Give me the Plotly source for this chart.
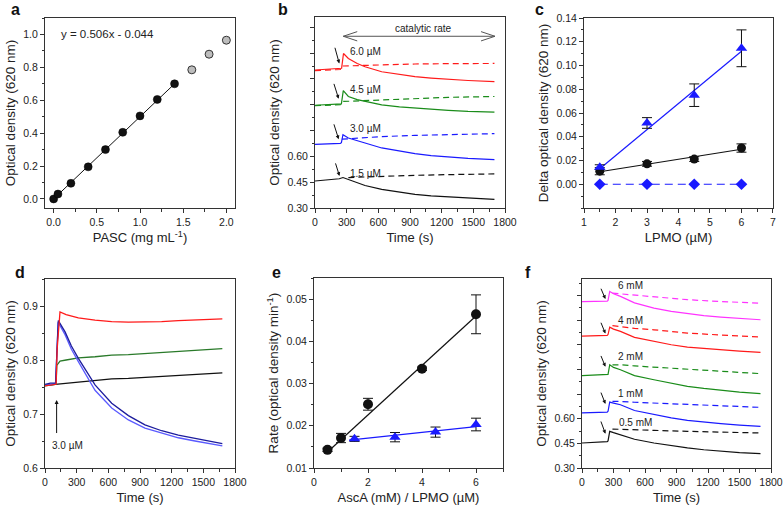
import plotly.graph_objects as go

W, H = 784, 513
FONT = "Liberation Sans, Arial, sans-serif"

# ---------------- data ----------------
# panel a
a_x = [0.0, 0.05, 0.2, 0.4, 0.6, 0.8, 1.0, 1.2, 1.4]
a_y = [0.0, 0.03, 0.095, 0.195, 0.30, 0.405, 0.505, 0.605, 0.70]
a_gray_x = [1.6, 1.8, 2.0]
a_gray_y = [0.785, 0.88, 0.965]
a_fit_x = [0.0, 1.4]
a_fit_y = [0.0, 0.70]

# panel b
b_red_t = [0, 120, 240, 252, 270, 316, 400, 474, 632, 800, 947, 1100, 1263, 1450, 1700]
b_red_y = [1.102, 1.106, 1.108, 1.112, 1.198, 1.169, 1.140, 1.121, 1.092, 1.075, 1.063, 1.055, 1.048, 1.041, 1.034]
b_redd_t = [0, 120, 240, 255, 400, 632, 947, 1263, 1700]
b_redd_y = [1.098, 1.100, 1.105, 1.125, 1.128, 1.134, 1.137, 1.139, 1.140]
b_grn_t = [0, 120, 240, 250, 268, 316, 400, 474, 632, 800, 947, 1100, 1263, 1450, 1700]
b_grn_y = [0.897, 0.899, 0.902, 0.905, 0.982, 0.948, 0.930, 0.919, 0.899, 0.888, 0.880, 0.873, 0.867, 0.861, 0.857]
b_grnd_t = [0, 240, 260, 400, 632, 947, 1263, 1700]
b_grnd_y = [0.895, 0.900, 0.919, 0.922, 0.930, 0.937, 0.943, 0.948]
b_blu_t = [0, 120, 240, 250, 265, 316, 400, 474, 632, 800, 947, 1100, 1263, 1450, 1700]
b_blu_y = [0.670, 0.672, 0.675, 0.680, 0.726, 0.707, 0.690, 0.678, 0.649, 0.630, 0.616, 0.604, 0.595, 0.588, 0.581]
b_blud_t = [255, 316, 474, 632, 947, 1263, 1700]
b_blud_y = [0.700, 0.703, 0.710, 0.715, 0.722, 0.727, 0.732]
b_blk_t = [0, 100, 190, 230, 265, 316, 400, 474, 632, 800, 947, 1100, 1263, 1450, 1700]
b_blk_y = [0.457, 0.462, 0.468, 0.470, 0.477, 0.466, 0.448, 0.431, 0.408, 0.392, 0.379, 0.370, 0.364, 0.357, 0.350]
b_blkd_t = [316, 474, 632, 947, 1263, 1700]
b_blkd_y = [0.477, 0.481, 0.485, 0.490, 0.494, 0.498]
b_labels = ["6.0 µM", "4.5 µM", "3.0 µM", "1.5 µM"]

# panel c
c_x = [1.5, 3.0, 4.5, 6.0]
c_tri_y = [0.0144, 0.0516, 0.075, 0.1145]
c_tri_err = [0.002, 0.0045, 0.0095, 0.0155]
c_cir_y = [0.011, 0.0172, 0.0212, 0.0305]
c_cir_err = [0.003, 0.002, 0.002, 0.0035]
c_dia_y = [0.0, 0.0, 0.0, 0.0]
c_tri_fit_x = [1.5, 6.0]
c_tri_fit_y = [0.013, 0.112]
c_cir_fit_x = [1.5, 6.0]
c_cir_fit_y = [0.0105, 0.0295]

# panel d
d_red_t = [0, 50, 105, 115, 142, 200, 316, 474, 632, 790, 947, 1105, 1263, 1421, 1680]
d_red_y = [0.752, 0.754, 0.755, 0.82, 0.889, 0.884, 0.878, 0.874, 0.871, 0.870, 0.870, 0.871, 0.873, 0.874, 0.876]
d_grn_t = [0, 50, 105, 112, 142, 200, 316, 474, 632, 790, 947, 1105, 1263, 1421, 1680]
d_grn_y = [0.752, 0.754, 0.755, 0.79, 0.798, 0.800, 0.804, 0.806, 0.809, 0.810, 0.812, 0.814, 0.816, 0.818, 0.821]
d_blk_t = [0, 158, 316, 474, 632, 790, 947, 1105, 1263, 1421, 1680]
d_blk_y = [0.753, 0.756, 0.760, 0.762, 0.765, 0.766, 0.768, 0.770, 0.772, 0.773, 0.776]
d_nav_t = [0, 50, 100, 110, 126, 190, 250, 316, 400, 474, 632, 790, 947, 1105, 1263, 1421, 1680]
d_nav_y = [0.755, 0.757, 0.757, 0.80, 0.873, 0.852, 0.826, 0.803, 0.776, 0.754, 0.720, 0.697, 0.680, 0.669, 0.661, 0.655, 0.645]
d_lbl_t = [0, 50, 100, 110, 124, 190, 250, 316, 400, 474, 632, 790, 947, 1105, 1263, 1421, 1680]
d_lbl_y = [0.753, 0.755, 0.756, 0.80, 0.870, 0.847, 0.820, 0.797, 0.768, 0.744, 0.711, 0.689, 0.674, 0.665, 0.656, 0.650, 0.641]

# panel e
e_cir_x = [0.5, 1.0, 2.0, 4.0, 6.0]
e_cir_y = [0.0143, 0.0171, 0.0251, 0.0335, 0.0464]
e_cir_err = [0.0004, 0.0011, 0.0014, 0.0004, 0.0046]
e_tri_x = [1.5, 3.0, 4.5, 6.0]
e_tri_y = [0.0169, 0.0173, 0.0185, 0.0203]
e_tri_err = [0.0006, 0.0011, 0.0012, 0.0015]
e_cir_fit_x = [0.5, 6.0]
e_cir_fit_y = [0.0138, 0.0460]
e_tri_fit_x = [1.3, 6.0]
e_tri_fit_y = [0.0166, 0.0198]

# panel f
f_t = [0, 120, 240, 248, 264, 300, 366, 500, 685, 850, 1004, 1160, 1322, 1500, 1700]
f_td = [290, 366, 500, 685, 1004, 1322, 1700]
f_blk_y = [0.452, 0.456, 0.460, 0.465, 0.523, 0.515, 0.503, 0.475, 0.452, 0.436, 0.422, 0.411, 0.401, 0.394, 0.387]
f_blkd_y = [0.537, 0.535, 0.532, 0.529, 0.523, 0.518, 0.513]
f_blu_y = [0.636, 0.638, 0.640, 0.645, 0.701, 0.695, 0.685, 0.650, 0.624, 0.605, 0.590, 0.579, 0.570, 0.561, 0.553]
f_blud_y = [0.705, 0.705, 0.700, 0.695, 0.685, 0.677, 0.669]
f_grn_y = [0.862, 0.864, 0.866, 0.870, 0.928, 0.912, 0.898, 0.862, 0.837, 0.815, 0.797, 0.784, 0.772, 0.762, 0.752]
f_grnd_y = [0.928, 0.928, 0.921, 0.914, 0.902, 0.888, 0.874]
f_red_y = [1.103, 1.105, 1.107, 1.112, 1.157, 1.145, 1.131, 1.095, 1.070, 1.050, 1.036, 1.027, 1.020, 1.011, 1.003]
f_redd_y = [1.166, 1.160, 1.150, 1.141, 1.121, 1.109, 1.097]
f_mag_y = [1.312, 1.313, 1.315, 1.320, 1.374, 1.360, 1.344, 1.305, 1.273, 1.253, 1.239, 1.227, 1.218, 1.210, 1.202]
f_magd_y = [1.364, 1.360, 1.352, 1.344, 1.324, 1.313, 1.303]
f_labels = ["6 mM", "4 mM", "2 mM", "1 mM", "0.5 mM"]

# ---------------- layout helpers ----------------
RED, GRN, BLU, BLK, MAG = "#ff1a1a", "#1a8c1a", "#1a1aff", "#111111", "#ff33ff"
D_GRN, NAVY, LBLUE = "#2a7a2a", "#1c1c9c", "#5a5aff"

boxes = {  # px: left, right, top, bottom
    1: (45, 235, 18, 208),
    2: (315, 505, 17, 208),
    3: (584, 773, 18, 208),
    4: (45, 235, 279, 468),
    5: (314, 503, 278, 468),
    6: (582, 771, 279, 468),
}

fig = go.Figure()


def ax_name(i, k):
    return f"{k}axis" if i == 1 else f"{k}axis{i}"


def ref(i, k):
    return k if i == 1 else f"{k}{i}"


def add(i, **kw):
    kw.setdefault("showlegend", False)
    kw.setdefault("hoverinfo", "skip")
    fig.add_trace(go.Scatter(xaxis=ref(i, "x"), yaxis=ref(i, "y"), **kw))


tickfont = dict(family=FONT, size=10.5, color="#222")
xtitlefont = dict(family=FONT, size=13, color="#222")
ytitlefont = dict(family=FONT, size=13.5, color="#222")


def set_axes(i, xr, yr, xt, yt, xdt, xminor, ydt=None, yminor=None, ytickvals=None, yticktext=None, xfmt=None, yfmt=None):
    L, R, T, B = boxes[i]
    common = dict(showline=True, linecolor="#333", linewidth=1, mirror=True, ticks="outside",
                  ticklen=4, tickcolor="#333", tickwidth=1, showgrid=False, zeroline=False,
                  tickfont=tickfont, automargin=False, fixedrange=True)
    xa = dict(common, domain=[L / W, R / W], range=xr, anchor=ref(i, "y"), dtick=xdt, tick0=0,
              minor=dict(dtick=xminor, ticklen=2.5, tickcolor="#333", ticks="outside", showgrid=False),
              title=dict(text=xt, font=xtitlefont, standoff=6))
    if xfmt:
        xa["tickformat"] = xfmt
    ya = dict(common, domain=[1 - B / H, 1 - T / H], range=yr, anchor=ref(i, "x"),
              title=dict(text=yt, font=ytitlefont, standoff=4))
    if ytickvals is not None:
        ya.update(tickmode="array", tickvals=ytickvals, ticktext=yticktext)
    else:
        ya.update(dtick=ydt, tick0=0)
    if yminor is not None:
        ya["minor"] = dict(dtick=yminor, tick0=0, ticklen=2.5, tickcolor="#333", ticks="outside", showgrid=False)
    if yfmt:
        ya["tickformat"] = yfmt
    fig.layout[ax_name(i, "x")] = xa
    fig.layout[ax_name(i, "y")] = ya


# ---------------- panel a ----------------
add(1, x=a_fit_x, y=a_fit_y, mode="lines", line=dict(color=BLK, width=1))
add(1, x=a_x, y=a_y, mode="markers",
    marker=dict(color=BLK, size=8, line=dict(color="#000", width=0.5)),
    error_x=dict(type="constant", value=0.035, color=BLK, thickness=1, width=0))
add(1, x=a_gray_x, y=a_gray_y, mode="markers",
    marker=dict(color="#bdbdbd", size=8, line=dict(color="#333", width=1)))
set_axes(1, [-0.1, 2.1], [-0.055, 1.1], "PASC (mg mL<sup>-1</sup>)", "Optical density (620 nm)",
         0.5, 0.25, ydt=0.2, yminor=0.1, xfmt=".1f", yfmt=".1f")

# ---------------- panel b ----------------
b_tick_vals = [0.30, 0.45, 0.60, 0.75, 0.90, 1.05, 1.20, 1.35]
b_tick_text = ["0.30", "0.45", "0.60", "", "", "", "", ""]
for t, y, c in [(b_red_t, b_red_y, RED), (b_grn_t, b_grn_y, GRN), (b_blu_t, b_blu_y, BLU), (b_blk_t, b_blk_y, BLK)]:
    add(2, x=t, y=y, mode="lines", line=dict(color=c, width=1.2))
for t, y, c in [(b_redd_t, b_redd_y, RED), (b_grnd_t, b_grnd_y, GRN), (b_blud_t, b_blud_y, BLU), (b_blkd_t, b_blkd_y, BLK)]:
    add(2, x=t, y=y, mode="lines", line=dict(color=c, width=1.2, dash="6px,4px"))
set_axes(2, [0, 1800], [0.30, 1.41], "Time (s)", "Optical density (620 nm)", 300, 150,
         yminor=0.075, ytickvals=b_tick_vals, yticktext=b_tick_text)

# ---------------- panel c ----------------
add(3, x=c_x, y=c_dia_y, mode="lines+markers",
    line=dict(color=BLU, width=1.2, dash="8px,5px"),
    marker=dict(symbol="diamond", size=9, color=BLU))
add(3, x=c_cir_fit_x, y=c_cir_fit_y, mode="lines", line=dict(color=BLK, width=1.2))
add(3, x=c_tri_fit_x, y=c_tri_fit_y, mode="lines", line=dict(color=BLU, width=1.2))
add(3, x=c_x, y=c_cir_y, mode="markers", marker=dict(color=BLK, size=9),
    error_y=dict(type="data", array=c_cir_err, color=BLK, thickness=1, width=5))
add(3, x=c_x, y=c_tri_y, mode="markers", marker=dict(symbol="triangle-up", color=BLU, size=10),
    error_y=dict(type="data", array=c_tri_err, color=BLK, thickness=1, width=5))
set_axes(3, [0.999, 7.001], [-0.02, 0.14], "LPMO (µM)", "Delta optical density (620 nm)", 1, 0.5,
         yminor=0.01, ytickvals=[0, 0.02, 0.04, 0.06, 0.08, 0.10, 0.12, 0.14],
         yticktext=["0.00", "0.02", "0.04", "0.06", "0.08", "0.10", "0.12", "0.14"])

# ---------------- panel d ----------------
add(4, x=d_blk_t, y=d_blk_y, mode="lines", line=dict(color=BLK, width=1.3))
add(4, x=d_grn_t, y=d_grn_y, mode="lines", line=dict(color=D_GRN, width=1.3))
add(4, x=d_lbl_t, y=d_lbl_y, mode="lines", line=dict(color=LBLUE, width=1.3))
add(4, x=d_nav_t, y=d_nav_y, mode="lines", line=dict(color=NAVY, width=1.3))
add(4, x=d_red_t, y=d_red_y, mode="lines", line=dict(color=RED, width=1.3))
set_axes(4, [0, 1800], [0.6, 0.95], "Time (s)", "Optical density (620 nm)", 300, 150,
         ydt=0.1, yminor=0.05, yfmt=".1f")

# ---------------- panel e ----------------
add(5, x=e_cir_fit_x, y=e_cir_fit_y, mode="lines", line=dict(color=BLK, width=1.2))
add(5, x=e_tri_fit_x, y=e_tri_fit_y, mode="lines", line=dict(color=BLU, width=1.2))
add(5, x=e_cir_x, y=e_cir_y, mode="markers", marker=dict(color=BLK, size=10),
    error_y=dict(type="data", array=e_cir_err, color=BLK, thickness=1, width=5))
add(5, x=e_tri_x, y=e_tri_y, mode="markers", marker=dict(symbol="triangle-up", color=BLU, size=10),
    error_y=dict(type="data", array=e_tri_err, color=BLK, thickness=1, width=5))
set_axes(5, [0, 7], [0.01, 0.055], "AscA (mM) / LPMO (µM)", "Rate (optical density min<sup>-1</sup>)", 2, 1,
         ydt=0.01, yminor=0.005, yfmt=".2f")

# ---------------- panel f ----------------
for y, c in [(f_mag_y, MAG), (f_red_y, RED), (f_grn_y, GRN), (f_blu_y, BLU), (f_blk_y, BLK)]:
    add(6, x=f_t, y=y, mode="lines", line=dict(color=c, width=1.2))
for y, c in [(f_magd_y, MAG), (f_redd_y, RED), (f_grnd_y, GRN), (f_blud_y, BLU), (f_blkd_y, BLK)]:
    add(6, x=f_td, y=y, mode="lines", line=dict(color=c, width=1.2, dash="6px,4px"))
set_axes(6, [0, 1800], [0.30, 1.45], "Time (s)", "Optical density (620 nm)", 300, 150,
         yminor=0.075, ytickvals=b_tick_vals, yticktext=b_tick_text)

# ---------------- annotations ----------------
ann = []


def text(i, x, y, s, size=10, **kw):
    ann.append(dict(xref=ref(i, "x"), yref=ref(i, "y"), x=x, y=y, text=s, showarrow=False,
                    font=dict(family=FONT, size=size, color="#222"), **kw))


def arrow(i, x0, y0, x1, y1, head=2, size=0.8, color="#111", width=1):
    ann.append(dict(xref=ref(i, "x"), yref=ref(i, "y"), axref=ref(i, "x"), ayref=ref(i, "y"),
                    x=x1, y=y1, ax=x0, ay=y0, text="", showarrow=True, arrowhead=head,
                    arrowsize=size, arrowwidth=width, arrowcolor=color, standoff=0, startstandoff=0))


text(1, 0.62, 1.0, "y = 0.506x - 0.044", size=11.5)

# b labels and arrows
for s, y in zip(b_labels, [1.208, 0.988, 0.761, 0.501]):
    text(2, 480, y, s)
for (x0, y0, x1, y1) in [(185, 1.240, 230, 1.140), (175, 1.030, 224, 0.935), (175, 0.795, 224, 0.700), (190, 0.568, 232, 0.486)]:
    arrow(2, x0, y0, x1, y1, head=2, size=0.75)
text(2, 1026, 1.345, "catalytic rate", size=10)
# double arrow with open heads
fig.add_shape(type="line", xref="x2", yref="y2", x0=268, x1=1705, y0=1.298, y1=1.298, line=dict(color="#555", width=1))
fig.add_shape(type="path", xref="x2", yref="y2", path="M 400,1.325 L 268,1.298 L 400,1.271", line=dict(color="#555", width=1))
fig.add_shape(type="path", xref="x2", yref="y2", path="M 1573,1.325 L 1705,1.298 L 1573,1.271", line=dict(color="#555", width=1))

# d arrow
arrow(4, 110, 0.662, 110, 0.726, head=2, size=0.8)
text(4, 215, 0.641, "3.0 µM", size=10)

# f labels and arrows
for s, x, y in zip(f_labels, [462, 462, 462, 462, 510], [1.409, 1.198, 0.979, 0.756, 0.574]):
    text(6, x, y, s)
for (y0, y1) in [(1.40, 1.328), (1.193, 1.118), (0.991, 0.916), (0.768, 0.690), (0.592, 0.509)]:
    arrow(6, 175, y0, 223, y1, head=2, size=0.75)

# panel letters
for s, x, y in [("a", 15, 9), ("b", 283, 9), ("c", 539, 9), ("d", 20, 272), ("e", 276, 272), ("f", 528, 272)]:
    ann.append(dict(xref="paper", yref="paper", x=x / W, y=1 - y / H, text=f"<b>{s}</b>", showarrow=False,
                    xanchor="center", yanchor="middle", font=dict(family=FONT, size=16, color="#111")))

fig.update_layout(width=W, height=H, margin=dict(l=0, r=0, t=0, b=0),
                  paper_bgcolor="white", plot_bgcolor="white", annotations=ann,
                  font=dict(family=FONT), hovermode=False)

fig.write_html("out.html", config={"displayModeBar": False, "staticPlot": False},
               post_script="document.body.style.margin='0';document.body.style.overflow='hidden';")
